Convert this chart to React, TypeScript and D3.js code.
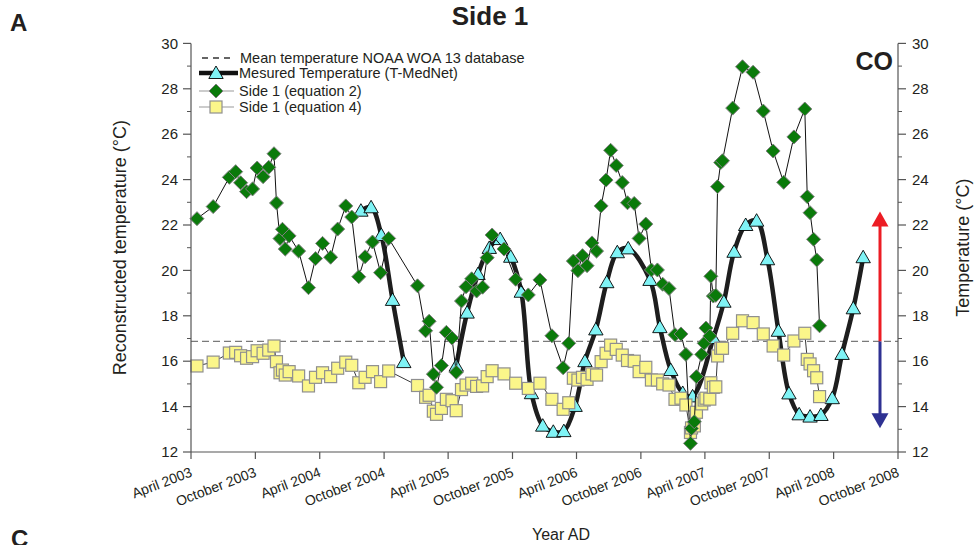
import React from "react";
import * as d3 from "d3";

// Proxy sample dates (shared by both reconstruction equations)
const sampleDates = [
  "2003-04-18","2003-06-03","2003-07-19","2003-08-06","2003-08-20","2003-09-06","2003-09-23","2003-10-06","2003-10-23","2003-11-08",
  "2003-11-23","2003-11-30","2003-12-10","2003-12-17","2003-12-25","2004-01-05","2004-02-01","2004-02-29","2004-03-20","2004-04-09",
  "2004-05-02","2004-05-22","2004-06-14","2004-07-01","2004-07-21","2004-08-08","2004-08-29","2004-09-21","2004-10-14","2005-01-04",
  "2005-01-27","2005-02-06","2005-02-18","2005-02-27","2005-03-13","2005-03-27","2005-04-12","2005-04-24","2005-05-09","2005-05-22",
  "2005-06-07","2005-06-21","2005-07-08","2005-07-21","2005-08-04","2005-09-07","2005-10-10","2005-11-15","2005-12-18","2006-01-21",
  "2006-02-22","2006-03-10","2006-03-23","2006-04-05","2006-04-18","2006-05-01","2006-05-15","2006-05-28","2006-06-10","2006-06-24",
  "2006-07-07","2006-07-23","2006-08-09","2006-08-24","2006-09-12","2006-09-26","2006-10-15","2006-10-31","2006-11-17","2006-12-02",
  "2006-12-20","2007-01-06","2007-01-23","2007-02-06","2007-02-19","2007-02-22","2007-03-02","2007-03-08","2007-03-23","2007-03-30",
  "2007-04-04","2007-04-15","2007-04-18","2007-04-25","2007-05-02","2007-05-07","2007-05-16","2007-05-21","2007-06-19","2007-07-17",
  "2007-08-16","2007-09-14","2007-10-12","2007-11-11","2007-12-10","2008-01-10","2008-01-17","2008-01-25","2008-02-04","2008-02-13",
  "2008-02-21",
];

// Side 1, equation 2 (°C)
const side1Eq2 = [
  22.28, 22.81, 24.1, 24.35, 23.86, 23.47, 23.59, 24.51, 24.13, 24.54,
  25.14, 22.97, 21.4, 21.81, 20.94, 21.52, 20.85, 19.24, 20.52, 21.19,
  20.58, 21.82, 22.84, 22.35, 19.72, 20.6, 21.25, 19.9, 21.41, 19.32,
  17.34, 17.76, 15.43, 14.85, 15.81, 17.27, 17.02, 15.51, 18.65, 19.28,
  19.63, 19.09, 19.26, 20.56, 21.56, 20.94, 19.61, 18.92, 19.58, 17.12,
  15.71, 16.79, 20.41, 19.99, 20.65, 20.21, 21.21, 20.85, 22.84, 23.98,
  25.29, 24.62, 23.87, 22.98, 22.95, 21.41, 22.04, 20.02, 20.02, 19.39,
  19.2, 17.17, 17.2, 16.3, 12.38, 13.04, 13.33, 15.32, 16.3, 16.79,
  17.46, 17.11, 19.74, 18.87, 18.9, 23.69, 24.75, 24.83, 27.15, 28.97,
  28.73, 27.02, 25.26, 23.88, 25.88, 27.11, 23.25, 22.54, 21.37, 20.46,
  17.56,
];

// Side 1, equation 4 (°C)
const side1Eq4 = [
  15.79, 15.96, 16.36, 16.39, 16.24, 16.13, 16.2, 16.46, 16.35, 16.49,
  16.67, 15.98, 15.49, 15.61, 15.39, 15.54, 15.35, 14.91, 15.29, 15.49,
  15.32, 15.69, 15.96, 15.82, 15.05, 15.29, 15.54, 15.1, 15.57, 14.93,
  14.41, 14.5, 13.8, 13.66, 13.92, 14.32, 14.26, 13.82, 14.75, 14.95,
  15.03, 14.89, 14.91, 15.32, 15.58, 15.44, 15.03, 14.8, 15.03, 14.32,
  13.88, 14.17, 15.25, 15.17, 15.29, 15.2, 15.44, 15.39, 15.98, 16.35,
  16.71, 16.52, 16.27, 16.03, 16.0, 15.54, 15.73, 15.17, 15.17, 15.0,
  14.95, 14.32, 14.37, 14.07, 12.86, 13.06, 13.15, 13.75, 14.12, 14.29,
  14.37, 14.33, 15.05, 14.85, 14.87, 16.23, 16.57, 16.57, 17.23, 17.78,
  17.7, 17.2, 16.67, 16.27, 16.89, 17.23, 16.08, 15.88, 15.58, 15.27,
  14.44,
];

// Measured temperature (T-MedNet); null marks the gap in the record
const medNetDates = [
  "2004-07-27","2004-08-25","2004-09-23","2004-10-25","2004-11-26","2005-01-15",
  "2005-04-24","2005-05-25","2005-06-25","2005-07-27","2005-08-27","2005-09-26","2005-10-26","2005-11-24","2005-12-26",
  "2006-01-25","2006-02-24","2006-03-28","2006-04-25","2006-05-26","2006-06-26","2006-07-26","2006-08-26","2006-10-27",
  "2006-11-24","2006-12-25","2007-01-28","2007-02-25","2007-04-25","2007-05-25","2007-06-23","2007-07-26","2007-08-26",
  "2007-09-26","2007-10-27","2007-11-26","2007-12-25","2008-01-25","2008-02-25","2008-03-28","2008-04-25","2008-05-27",
  "2008-06-24",
];
const medNetTemp: (number | null)[] = [
  22.63, 22.78, 21.56, 18.7, 15.96, null,
  15.8, 18.14, 19.84, 20.99, 21.38, 20.6, 19.06, 14.59, 13.16,
  12.89, 12.92, 14.03, 16.0, 17.4, 19.48, 20.8, 20.97, 19.58,
  17.5, 15.61, 14.6, 14.45, 17.02, 18.62, 20.82, 22.0, 22.19,
  20.49, 17.34, 14.58, 13.66, 13.56, 13.63, 14.37, 16.32, 18.33,
  20.58,
];

// Mean temperature from the NOAA WOA 13 database
const woaMean = 16.87;

const xTickDates = [
  "2003-04-01","2003-10-01","2004-04-01","2004-10-01","2005-04-01","2005-10-01",
  "2006-04-01","2006-10-01","2007-04-01","2007-10-01","2008-04-01","2008-10-01",
];
const xTickLabels = [
  "April 2003","October 2003","April 2004","October 2004","April 2005","October 2005",
  "April 2006","October 2006","April 2007","October 2007","April 2008","October 2008",
];
const yTicks = [12, 14, 16, 18, 20, 22, 24, 26, 28, 30];
const yMinorTicks = [13, 15, 17, 19, 21, 23, 25, 27, 29];

const FONT = "'Liberation Sans', Arial, Helvetica, sans-serif";
const INK = "#231f20";

const diamondPath = "M0,-7L7,0L0,7L-7,0Z";
const trianglePath = "M0,-7L7.2,5.5L-7.2,5.5Z";

export default function App() {
  const left = 191, right = 898, top = 43.4, bottom = 452;
  const x = d3.scaleTime()
    .domain([new Date("2003-04-01"), new Date("2008-10-01")])
    .range([left, right]);
  const y = d3.scaleLinear().domain([12, 30]).range([bottom, top]);

  const samples = sampleDates.map((d, i) => ({
    date: new Date(d), eq2: side1Eq2[i], eq4: side1Eq4[i],
  }));
  const medNet = medNetDates.map((d, i) => ({ date: new Date(d), v: medNetTemp[i] }));

  const lineEq2 = d3.line<any>().x((d) => x(d.date)).y((d) => y(d.eq2));
  const lineEq4 = d3.line<any>().x((d) => x(d.date)).y((d) => y(d.eq4));
  const lineMed = d3.line<any>()
    .defined((d) => d.v !== null)
    .x((d) => x(d.date)).y((d) => y(d.v))
    .curve(d3.curveCatmullRom.alpha(0.5));

  const arrowX = 880;
  const yMean = y(woaMean);

  return (
    <svg width={978} height={545} style={{ position: "absolute", left: 0, top: 0, background: "#fff" }}
      fontFamily={FONT}>
      <rect width={978} height={545} fill="#fff" />

      {/* Panel letters and titles */}
      <text x={10} y={31} fontSize={24} fontWeight="bold" fill={INK}>A</text>
      <text x={11} y={547} fontSize={24} fontWeight="bold" fill={INK}>C</text>
      <text x={490} y={25} fontSize={26} fontWeight="bold" textAnchor="middle" fill={INK}>Side 1</text>
      <text x={893} y={70} fontSize={25} fontWeight="bold" textAnchor="end" fill={INK}>CO</text>

      {/* Mean temperature reference line */}
      <line x1={left} x2={right} y1={yMean} y2={yMean} stroke="#7a7a7a" strokeWidth={1.3} strokeDasharray="7,4" />

      {/* Warm / cold arrows */}
      <line x1={arrowX} x2={arrowX} y1={yMean} y2={y(22.6) + 12} stroke="#ec1c24" strokeWidth={3} />
      <path d={`M${arrowX},${y(22.6)}L${arrowX + 8.5},${y(22.6) + 15}L${arrowX - 8.5},${y(22.6) + 15}Z`} fill="#ec1c24" />
      <line x1={arrowX} x2={arrowX} y1={yMean} y2={y(13.05) - 12} stroke="#2e3192" strokeWidth={3} />
      <path d={`M${arrowX},${y(13.05)}L${arrowX + 8.5},${y(13.05) - 15}L${arrowX - 8.5},${y(13.05) - 15}Z`} fill="#2e3192" />

      {/* Measured temperature */}
      <path d={lineMed(medNet) || ""} fill="none" stroke="#1e1e1e" strokeWidth={4.5} strokeLinejoin="round" />
      {medNet.filter((d) => d.v !== null).map((d, i) => (
        <path key={"t" + i} d={trianglePath} transform={`translate(${x(d.date)},${y(d.v as number)})`}
          fill="#7ff3f5" stroke="#000" strokeWidth={0.9} />
      ))}

      {/* Equation 4 */}
      <path d={lineEq4(samples) || ""} fill="none" stroke="#3a3a3a" strokeWidth={1} />
      {samples.map((d, i) => (
        <rect key={"s" + i} x={x(d.date) - 6} y={y(d.eq4) - 6} width={12} height={12}
          fill="#fbf68a" stroke="#8f8f8f" strokeWidth={1.2} />
      ))}

      {/* Equation 2 */}
      <path d={lineEq2(samples) || ""} fill="none" stroke="#111" strokeWidth={1} />
      {samples.map((d, i) => (
        <path key={"d" + i} d={diamondPath} transform={`translate(${x(d.date)},${y(d.eq2)})`}
          fill="#0a7a0a" stroke="#7f7f7f" strokeWidth={1} />
      ))}

      {/* Left axis */}
      <line x1={left} x2={left} y1={top} y2={bottom} stroke="#555" strokeWidth={1.2} />
      {yTicks.map((t) => (
        <g key={"yl" + t}>
          <line x1={left - 8} x2={left} y1={y(t)} y2={y(t)} stroke="#555" strokeWidth={1.2} />
          <text x={left - 13} y={y(t)} dy="0.35em" fontSize={15} textAnchor="end" fill={INK}>{t}</text>
        </g>
      ))}
      {yMinorTicks.map((t) => (
        <line key={"ylm" + t} x1={left - 4} x2={left} y1={y(t)} y2={y(t)} stroke="#555" strokeWidth={1} />
      ))}

      {/* Right axis */}
      <line x1={right} x2={right} y1={top} y2={bottom} stroke="#555" strokeWidth={1.2} />
      {yTicks.map((t) => (
        <g key={"yr" + t}>
          <line x1={right} x2={right + 8} y1={y(t)} y2={y(t)} stroke="#555" strokeWidth={1.2} />
          <text x={right + 14} y={y(t)} dy="0.35em" fontSize={15} textAnchor="start" fill={INK}>{t}</text>
        </g>
      ))}
      {yMinorTicks.map((t) => (
        <line key={"yrm" + t} x1={right} x2={right + 4} y1={y(t)} y2={y(t)} stroke="#555" strokeWidth={1} />
      ))}

      {/* Bottom axis */}
      <line x1={left} x2={right} y1={bottom} y2={bottom} stroke="#555" strokeWidth={1.2} />
      {xTickDates.map((d, i) => {
        const px = x(new Date(d));
        return (
          <g key={"xt" + i}>
            <line x1={px} x2={px} y1={bottom} y2={bottom + 7} stroke="#555" strokeWidth={1.2} />
            <text transform={`translate(${px + 2},${bottom + 24}) rotate(-21)`} fontSize={14}
              textAnchor="end" fill={INK}>{xTickLabels[i]}</text>
          </g>
        );
      })}

      {/* Axis titles */}
      <text transform={`translate(126,${(top + bottom) / 2}) rotate(-90)`} fontSize={18} textAnchor="middle" fill={INK}>
        Reconstructed temperature (°C)
      </text>
      <text transform={`translate(969,${(top + bottom) / 2}) rotate(-90)`} fontSize={18} textAnchor="middle" fill={INK}>
        Temperature (°C)
      </text>
      <text x={561} y={540} fontSize={16} textAnchor="middle" fill={INK}>Year AD</text>

      {/* Legend */}
      <g fontSize={14.5} fill={INK}>
        <line x1={202} x2={232} y1={58} y2={58} stroke="#333" strokeWidth={1.3} strokeDasharray="6,5" />
        <text x={240} y={58} dy="0.35em">Mean temperature NOAA WOA 13 database</text>

        <line x1={199} x2={238} y1={73} y2={73} stroke="#111" strokeWidth={4.5} />
        <path d={trianglePath} transform="translate(216,73)" fill="#7ff3f5" stroke="#000" strokeWidth={0.9} />
        <text x={239} y={73} dy="0.35em">Mesured Temperature (T-MedNet)</text>

        <line x1={199} x2={234} y1={91} y2={91} stroke="#999" strokeWidth={1} />
        <path d={diamondPath} transform="translate(216,91)" fill="#0a7a0a" stroke="#7f7f7f" strokeWidth={1} />
        <text x={239} y={91} dy="0.35em">Side 1 (equation 2)</text>

        <line x1={199} x2={234} y1={107} y2={107} stroke="#999" strokeWidth={1} />
        <rect x={210} y={101} width={12} height={12} fill="#fbf68a" stroke="#8f8f8f" strokeWidth={1.2} />
        <text x={239} y={107} dy="0.35em">Side 1 (equation 4)</text>
      </g>
    </svg>
  );
}
